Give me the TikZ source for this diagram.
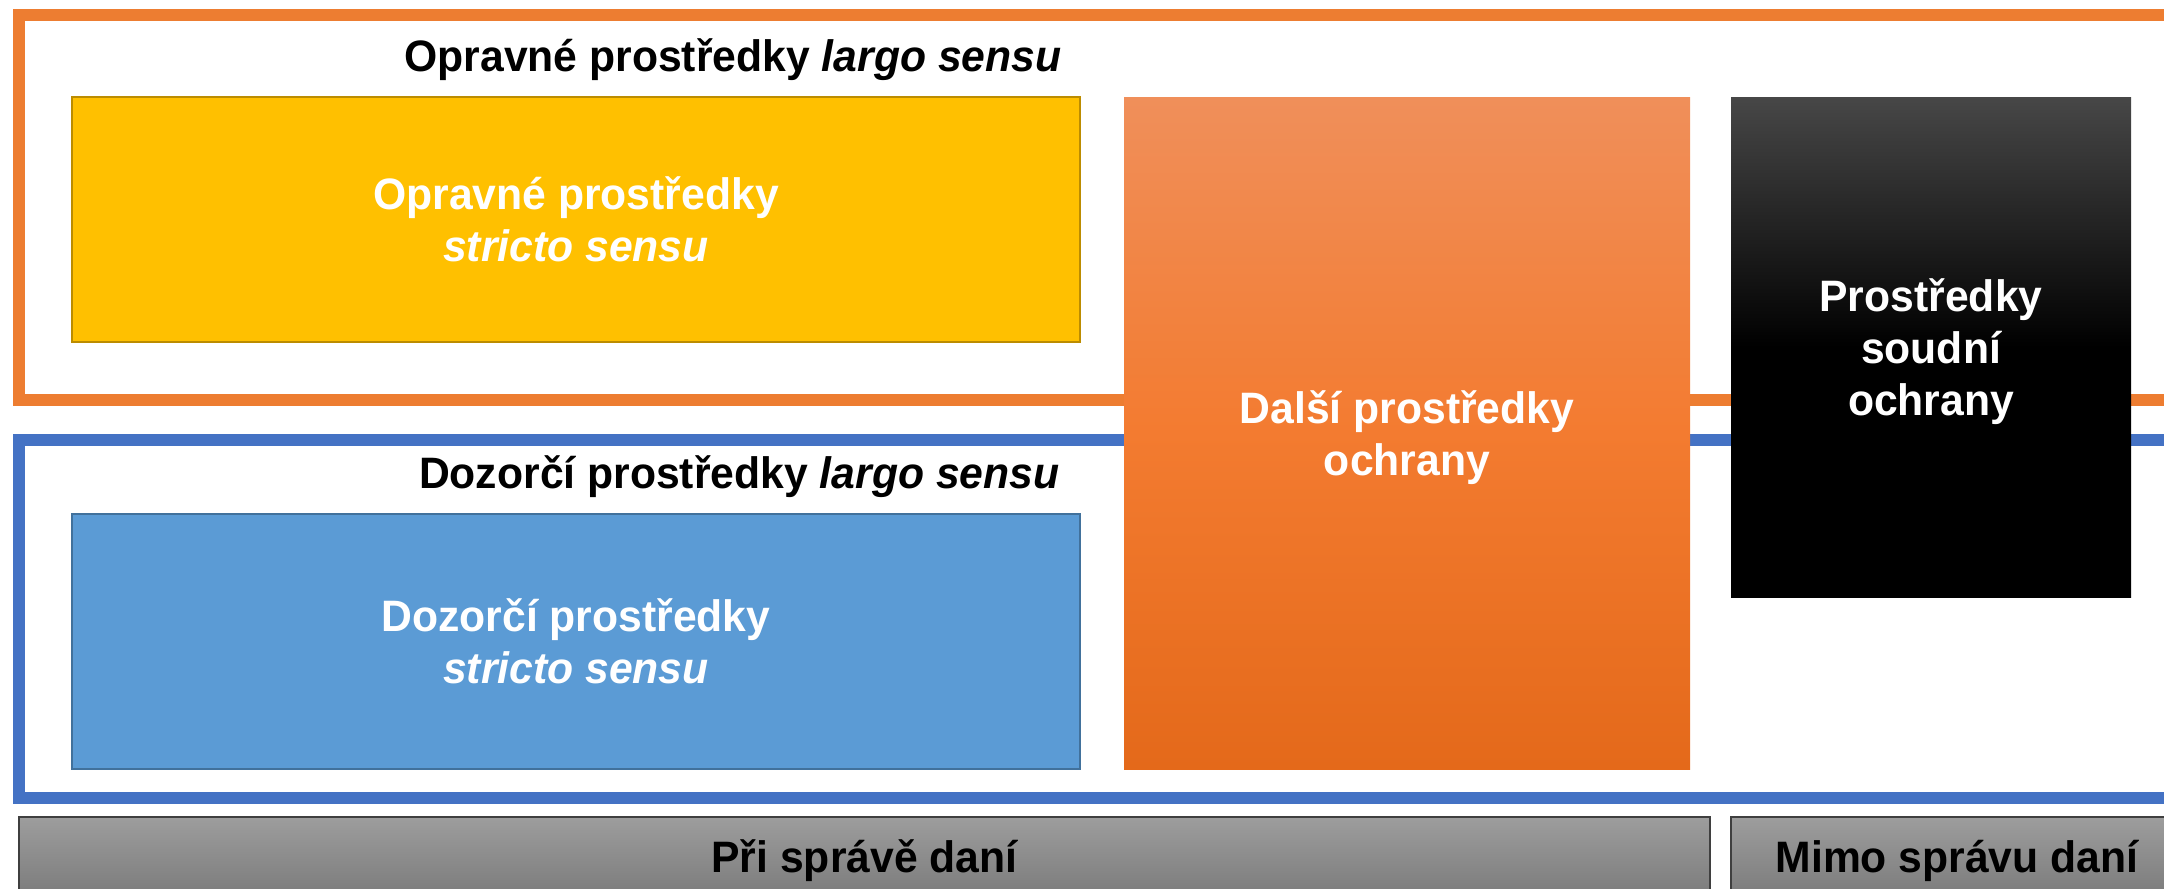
\documentclass[tikz,border=0pt]{standalone}
\usepackage{fontspec}
\setmainfont{Liberation Sans}[FakeStretch=0.97]
\usetikzlibrary{positioning}
\definecolor{oframe}{HTML}{ED7D31}
\definecolor{bframe}{HTML}{4472C4}
\definecolor{yfill}{HTML}{FFC000}
\definecolor{yline}{HTML}{BC8C00}
\definecolor{bfill}{HTML}{5B9BD5}
\definecolor{bline}{HTML}{41719C}
\definecolor{otop}{HTML}{F08F5A}
\definecolor{omid}{HTML}{F37B30}
\definecolor{obot}{HTML}{E4691A}
\definecolor{ktop}{HTML}{474747}
\definecolor{gtop}{HTML}{9D9D9D}
\definecolor{gbot}{HTML}{7C7C7C}
\definecolor{gline}{HTML}{3F3F3F}
\tikzset{
	frame/.style={line width=12pt},
	bigtext/.style={font=\fontsize{44}{52}\selectfont\bfseries, align=center},
	box/.style={bigtext, text=white, inner sep=0pt, outer sep=0pt, text depth=0pt},
	innerbox/.style={box, line width=2.5pt, minimum width=1008pt},
	bar/.style={bigtext, inner sep=0pt, outer sep=0pt, text depth=0pt, draw=gline, line width=2pt,
		top color=gtop, bottom color=gbot, minimum height=78pt, anchor=north west},
}
\begin{document}
\begin{tikzpicture}[x=1pt, y=-1pt]
\useasboundingbox (0,0) rectangle (2164,889);
\clip (0,0) rectangle (2164,889);

% frames
\draw[frame, draw=oframe] (19,14.5) rectangle (2200,400);
\draw[frame, draw=bframe] (19,440) rectangle (2200,798);

\node[bigtext, anchor=base east] (oprtitle) at (1065,71) {Opravné prostředky \textit{largo sensu}};
\node[bigtext, anchor=base east] (doztitle) at (1063,488) {Dozorčí prostředky \textit{largo sensu}};

% boxes
\node[innerbox, fill=yfill, draw=yline, minimum height=245pt, anchor=north west] (opr) at (72,97) {Opravné prostředky\\\textit{stricto sensu}};
\node[innerbox, fill=bfill, draw=bline, minimum height=255pt, below=172pt of opr] (doz) {Dozorčí prostředky\\\textit{stricto sensu}};
\node[box, top color=otop, bottom color=obot, middle color=omid, minimum width=566pt, minimum height=672pt,
	right=44pt of opr.north east, anchor=north west] (dalsi) {Další prostředky\\ochrany};
\node[box, top color=ktop, bottom color=black, middle color=black, minimum width=400pt, minimum height=500pt,
	right=41pt of dalsi.north east, anchor=north west] (soud) {Prostředky\\soudní\\ochrany};

% bars
\node[bar, minimum width=1691pt] (pri) at (19,817) {Při správě daní};
\node[bar, minimum width=452pt, right=21pt of pri.north east, anchor=north west] (mimo) {Mimo správu daní};
\end{tikzpicture}
\end{document}
